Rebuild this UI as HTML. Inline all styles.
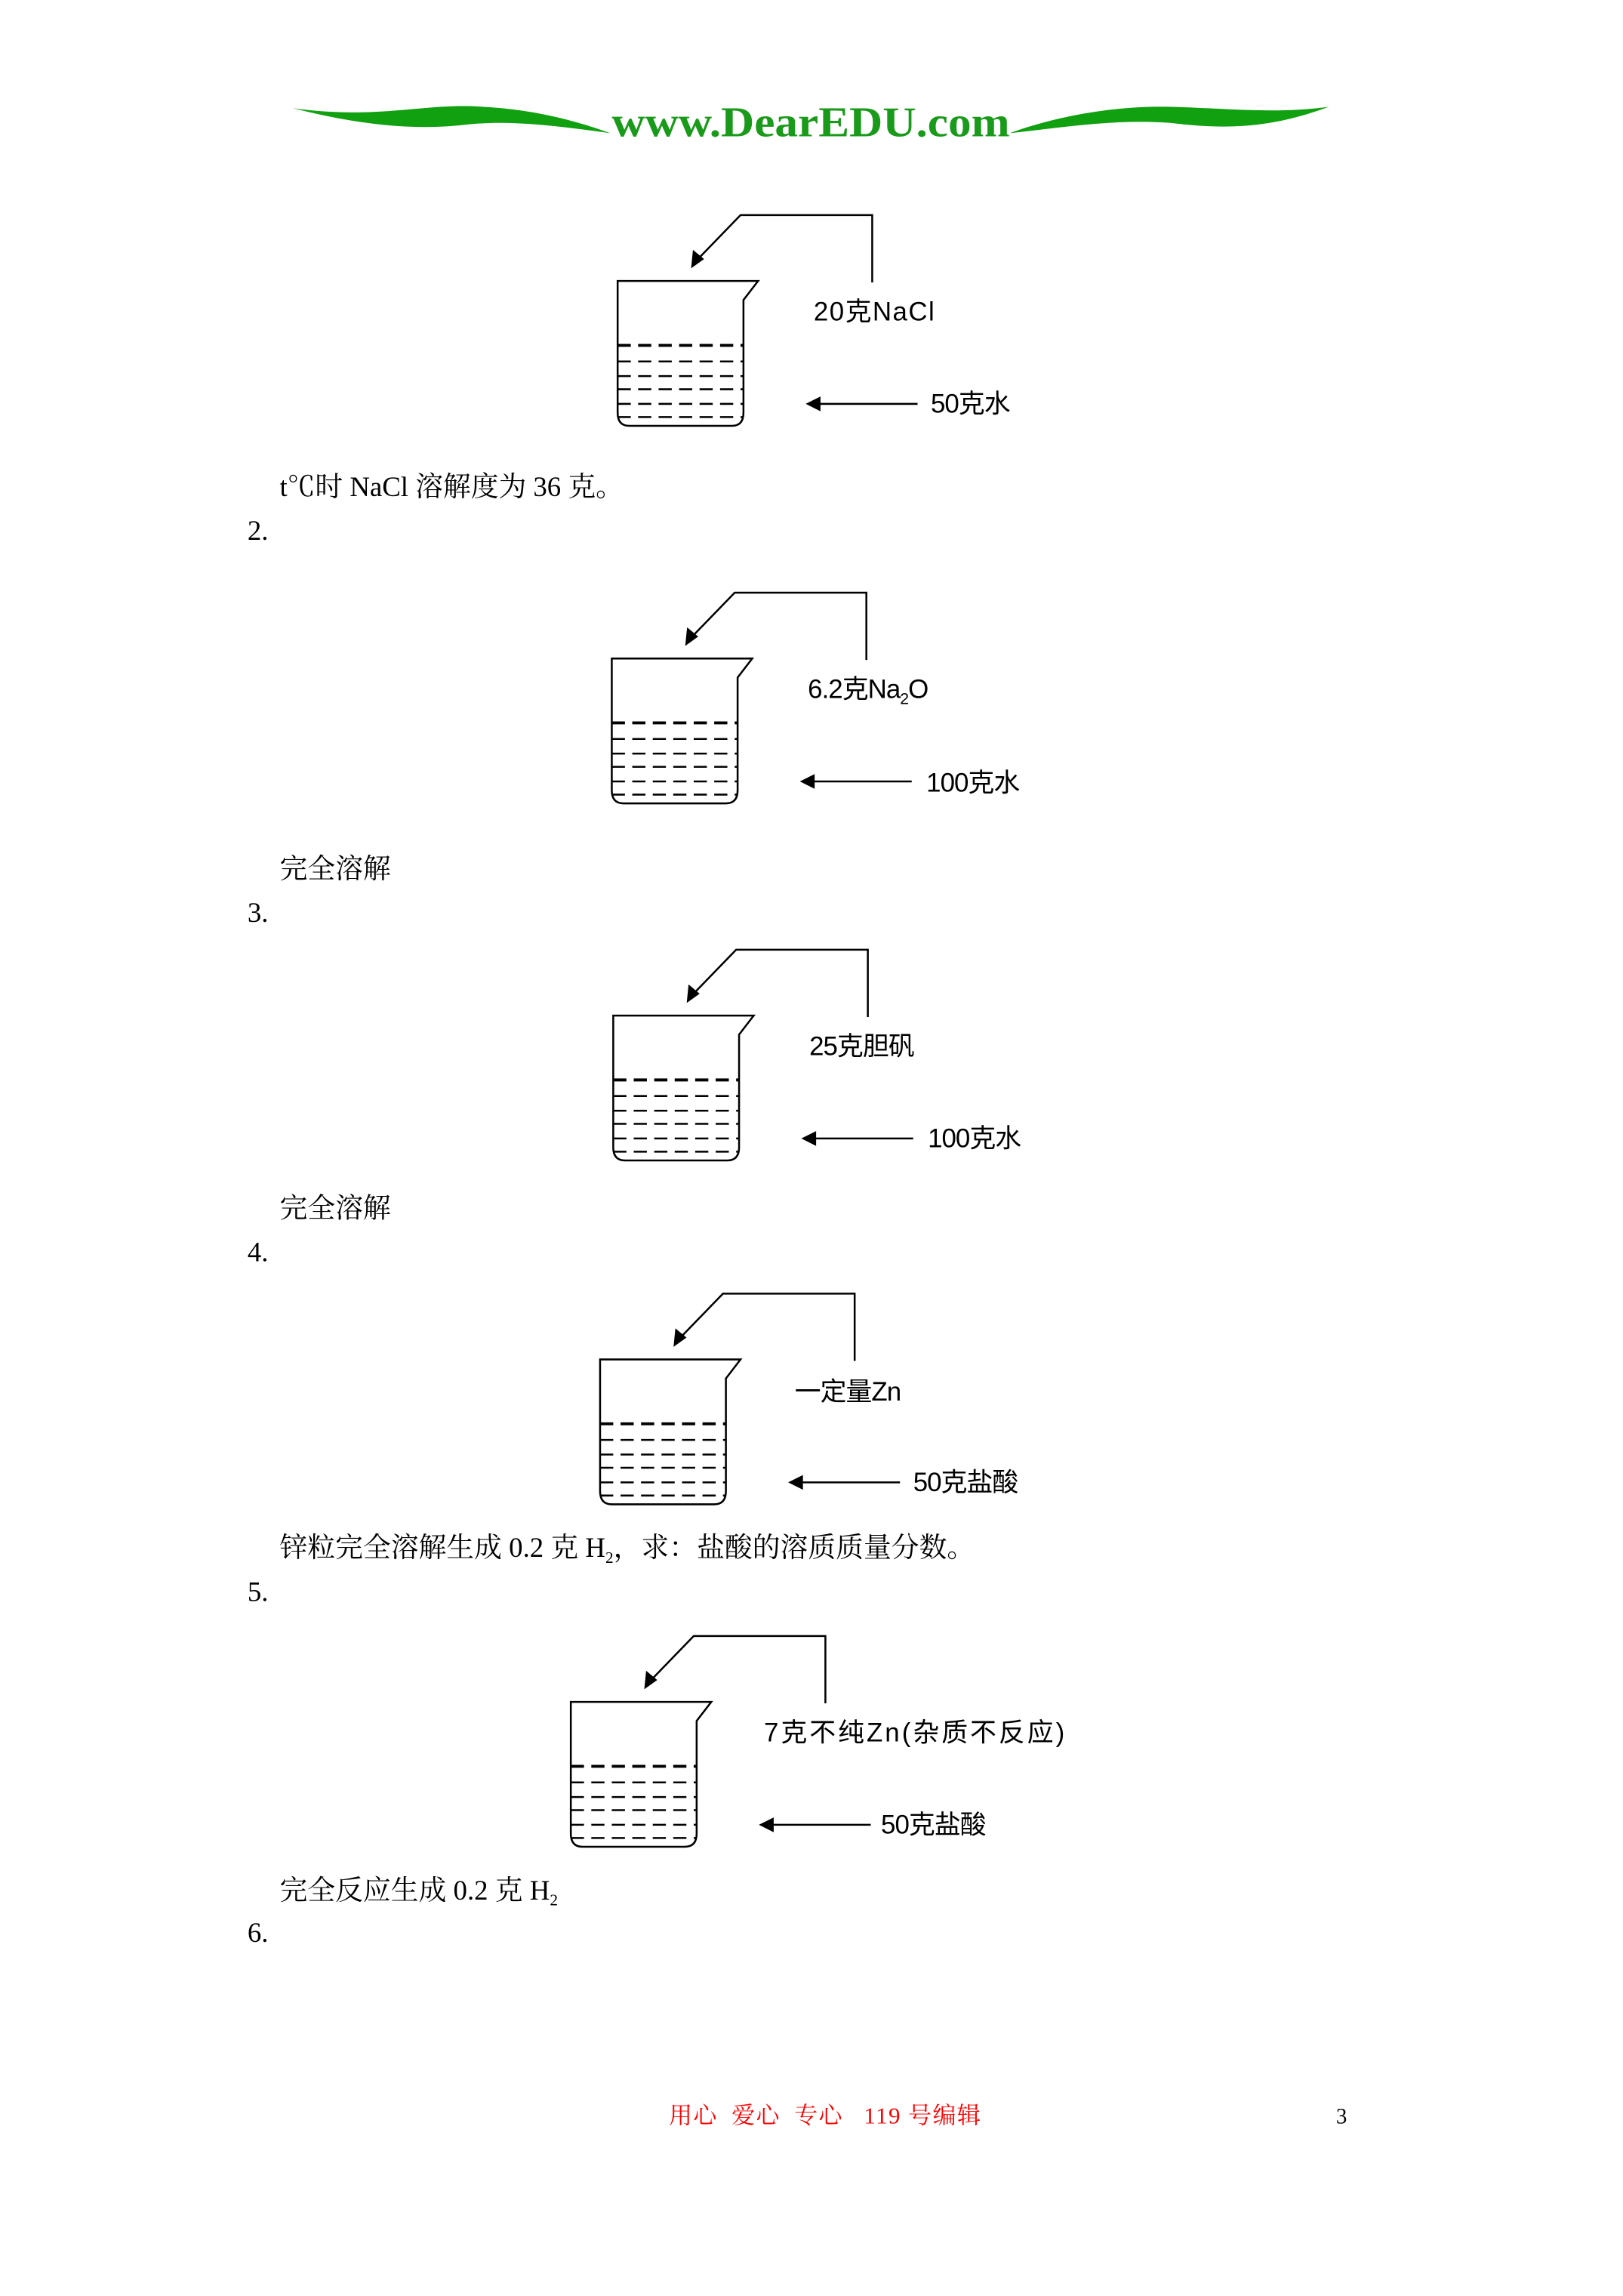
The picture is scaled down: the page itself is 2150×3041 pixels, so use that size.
<!DOCTYPE html>
<html><head><meta charset="utf-8"><style>
html,body{margin:0;padding:0;background:#fff;}
svg{display:block;}
.t{font-family:"Liberation Serif","Noto Serif CJK SC",serif;font-size:19px;fill:#000;}
.l{font-family:"Liberation Sans","Noto Sans CJK SC",sans-serif;font-size:18px;fill:#000;letter-spacing:-0.5px;}
</style></head><body>
<svg width="2150" height="3041" viewBox="0 0 1109 1569" xmlns="http://www.w3.org/2000/svg">
<defs>
<g id="bk" fill="none" stroke="#000" stroke-width="1.3">
<path d="M0 0 L96 0 L86 13 L86 90 Q86 99 78 99 L8 99 Q0 99 0 90 Z" fill="none"/>
<line x1="0" y1="44" x2="86" y2="44" stroke-width="2" stroke-dasharray="9 5"/>
<line x1="0" y1="55" x2="86" y2="55" stroke-dasharray="9 5"/>
<line x1="0" y1="65" x2="86" y2="65" stroke-dasharray="9 5"/>
<line x1="0" y1="74" x2="86" y2="74" stroke-dasharray="9 5"/>
<line x1="0" y1="84" x2="86" y2="84" stroke-dasharray="9 5"/>
<line x1="0" y1="93" x2="86" y2="93" stroke-dasharray="9 5"/>
<path d="M174 1 L174 -45 L84 -45 L53 -13" />
<path d="M51 -10 L52 -20 L58 -15 Z" fill="#000"/>
<line x1="205" y1="84" x2="134" y2="84"/>
<path d="M130 84 L138 80 L138 88 Z" fill="#000"/>
</g>
</defs>
<!-- header -->
<path d="M200 74 C260 82 290 70 330 73 C370 75 400 85 417 91 C380 86 350 82 320 85 C280 90 240 84 200 74 Z" fill="#10a010"/>
<path d="M690 91 C720 80 760 72 800 73 C840 74 870 78 908 73 C870 87 840 89 800 84 C760 81 720 88 690 91 Z" fill="#10a010"/>
<text x="418" y="93" textLength="272" lengthAdjust="spacingAndGlyphs" font-family="Liberation Serif,serif" font-weight="bold" font-size="29" fill="#1a9a1a">www.DearEDU.com</text>

<use href="#bk" x="422" y="192"/>
<text class="l" x="556" y="219" textLength="82">20克NaCl</text>
<text class="l" x="636" y="282">50克水</text>
<text class="t" x="191" y="339" textLength="235">t℃时 NaCl 溶解度为 36 克。</text>
<text class="t" x="169" y="369">2.</text>

<use href="#bk" x="418" y="450"/>
<text class="l" x="552" y="477">6.2克Na<tspan font-size="11" dy="4">2</tspan><tspan dy="-4">O</tspan></text>
<text class="l" x="633" y="541">100克水</text>
<text class="t" x="191" y="600">完全溶解</text>
<text class="t" x="169" y="630">3.</text>

<use href="#bk" x="419" y="694"/>
<text class="l" x="553" y="721">25克胆矾</text>
<text class="l" x="634" y="784">100克水</text>
<text class="t" x="191" y="832">完全溶解</text>
<text class="t" x="169" y="862">4.</text>

<use href="#bk" x="410" y="929"/>
<text class="l" x="543" y="957">一定量Zn</text>
<text class="l" x="624" y="1019">50克盐酸</text>
<text class="t" x="191" y="1064">锌粒完全溶解生成 0.2 克 H<tspan font-size="11" dy="4">2</tspan><tspan dy="-4">，求：盐酸的溶质质量分数。</tspan></text>
<text class="t" x="169" y="1094">5.</text>

<use href="#bk" x="390" y="1163"/>
<text class="l" x="522" y="1190" textLength="205">7克不纯Zn(杂质不反应)</text>
<text class="l" x="602" y="1253">50克盐酸</text>
<text class="t" x="191" y="1298">完全反应生成 0.2 克 H<tspan font-size="11" dy="4">2</tspan></text>
<text class="t" x="169" y="1327">6.</text>

<text x="457" y="1451" textLength="213" font-family="Liberation Serif,'Noto Serif CJK SC',serif" font-size="16" fill="#f00" xml:space="preserve">用心  爱心  专心   119 号编辑</text>
<text x="913" y="1451" font-family="Liberation Serif,serif" font-size="15" fill="#000">3</text>
</svg>
</body></html>
